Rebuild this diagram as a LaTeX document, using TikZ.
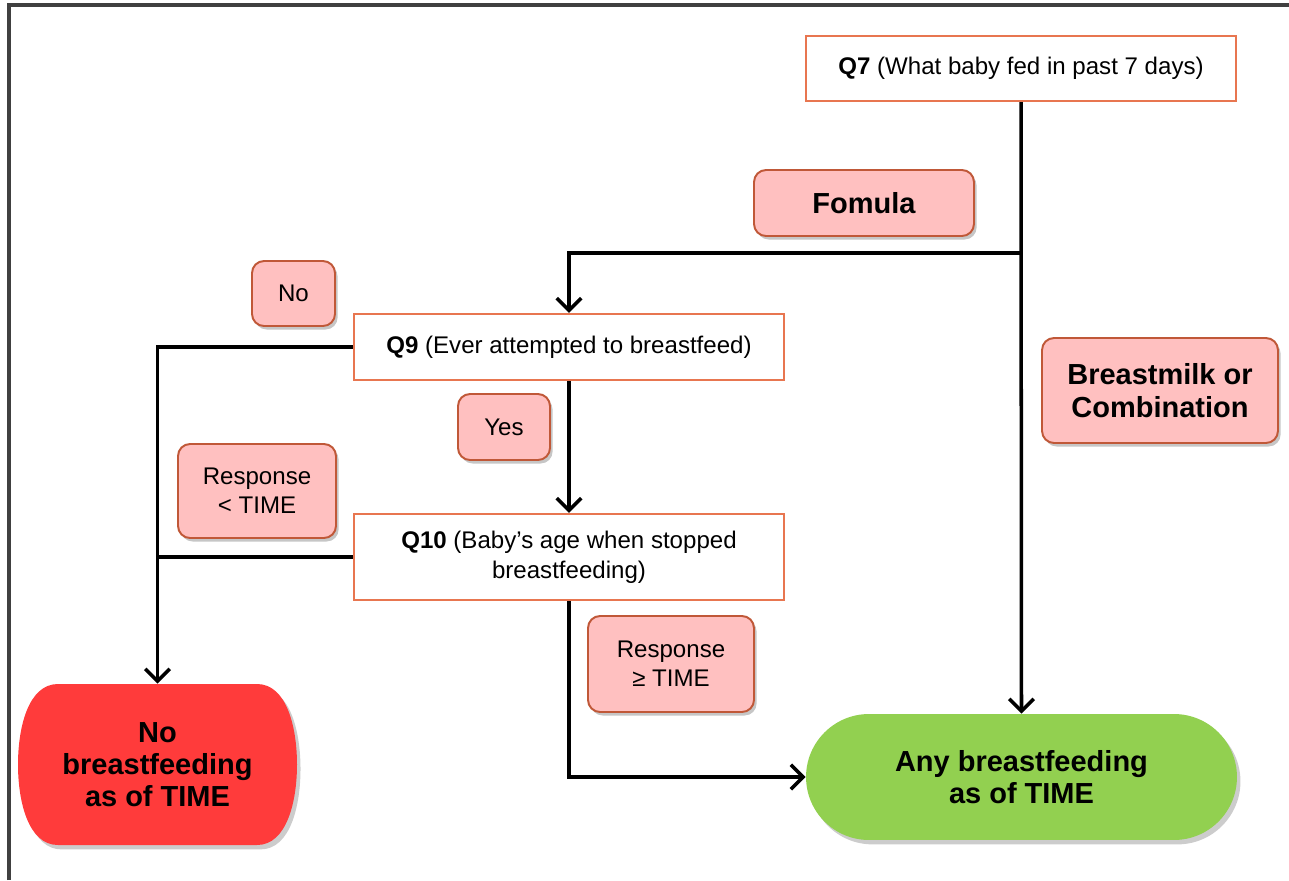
\documentclass[tikz,border=0pt]{standalone}
\usepackage{fontspec}
\setmainfont{Liberation Sans}
\usetikzlibrary{arrows.meta,shadows}
\definecolor{qborder}{RGB}{232,118,80}
\definecolor{lblfill}{RGB}{255,192,192}
\definecolor{lbldraw}{RGB}{192,88,56}
\definecolor{nored}{RGB}{255,59,59}
\definecolor{anygreen}{RGB}{146,208,80}
\definecolor{framegray}{RGB}{64,64,64}
\tikzset{
  qbox/.style={draw=qborder, line width=1.2pt, fill=white, inner sep=0pt, align=center,
    font=\fontsize{13.7}{17}\selectfont},
  lbl/.style={draw=lbldraw, line width=1.1pt, fill=lblfill, rounded corners=0.24cm,
    inner sep=0pt, align=center, font=\fontsize{13.7}{16.4}\selectfont,
    drop shadow={opacity=0.45, shadow xshift=1.5pt, shadow yshift=-2pt}},
  blbl/.style={lbl, font=\bfseries\fontsize{16.5}{18.7}\selectfont},
  term/.style={inner sep=0pt, align=center, font=\bfseries\fontsize{16.5}{18.4}\selectfont},
  termshadow/.style={drop shadow={opacity=0.4, shadow xshift=2pt, shadow yshift=-2.5pt}},
  conn/.style={line width=2pt, -{Straight Barb[length=7pt,width=14pt,line width=2pt]}},
  plainline/.style={line width=2pt},
}
\begin{document}
\begin{tikzpicture}[x=0.02cm, y=-0.02cm]
\useasboundingbox (0,0) rectangle (1289,880);
\draw[framegray, line width=2pt] (9,880) -- (9,5) -- (1289,5);

% question boxes
\node[qbox, minimum width=8.6cm, minimum height=1.3cm] (q7) at (1021,68.5)
  {\textbf{Q7} (What baby fed in past 7 days)};
\node[qbox, minimum width=8.6cm, minimum height=1.32cm] (q9) at (569,347)
  {\textbf{Q9} (Ever attempted to breastfeed)};
\node[qbox, minimum width=8.6cm, minimum height=1.72cm] (q10) at (569,557)
  {\textbf{Q10} (Baby’s age when stopped\\breastfeeding)};

% labels
\node[blbl, minimum width=4.4cm, minimum height=1.32cm] (formula) at (864,203) {Fomula};
\node[lbl, minimum width=1.66cm, minimum height=1.3cm] (nolbl) at (293.5,293.5) {No};
\node[lbl, minimum width=1.84cm, minimum height=1.32cm] (yeslbl) at (504,427) {Yes};
\node[lbl, minimum width=3.16cm, minimum height=1.88cm] (resplt) at (257,491) {Response\\< TIME};
\node[lbl, minimum width=3.32cm, minimum height=1.92cm] (respge) at (671,664) {Response\\≥ TIME};
\node[blbl, minimum width=4.72cm, minimum height=2.1cm] (bm) at (1160,390.5) {Breastmilk or\\Combination};

% terminals
\fill[nored, termshadow] (58,684) -- (257,684) .. controls (287,684) and (297,728) .. (297,764.5)
  .. controls (297,801) and (287,845) .. (257,845) -- (58,845)
  .. controls (28,845) and (18,801) .. (18,764.5) .. controls (18,728) and (28,684) .. (58,684) -- cycle;
\node[term, minimum width=5.58cm, minimum height=3.22cm] (nobf) at (157.5,764.5)
  {No\\breastfeeding\\as of TIME};
\node[term, fill=anygreen, termshadow, rounded corners=1.26cm, minimum width=8.62cm, minimum height=2.52cm]
  (anybf) at (1021.5,777) {Any breastfeeding\\as of TIME};

% connectors
\coordinate (fork) at (1021,253);
\draw[conn] (q7.south) -- (anybf.north);
\draw[conn] (fork) -| (q9.north);
\draw[conn] (q9.west) -| (nobf.north);
\draw[plainline] (q10.west) -- (q10.west -| nobf.north);
\draw[conn] (q9.south) -- (q10.north);
\draw[conn] (q10.south) |- (anybf.west);
\end{tikzpicture}
\end{document}
